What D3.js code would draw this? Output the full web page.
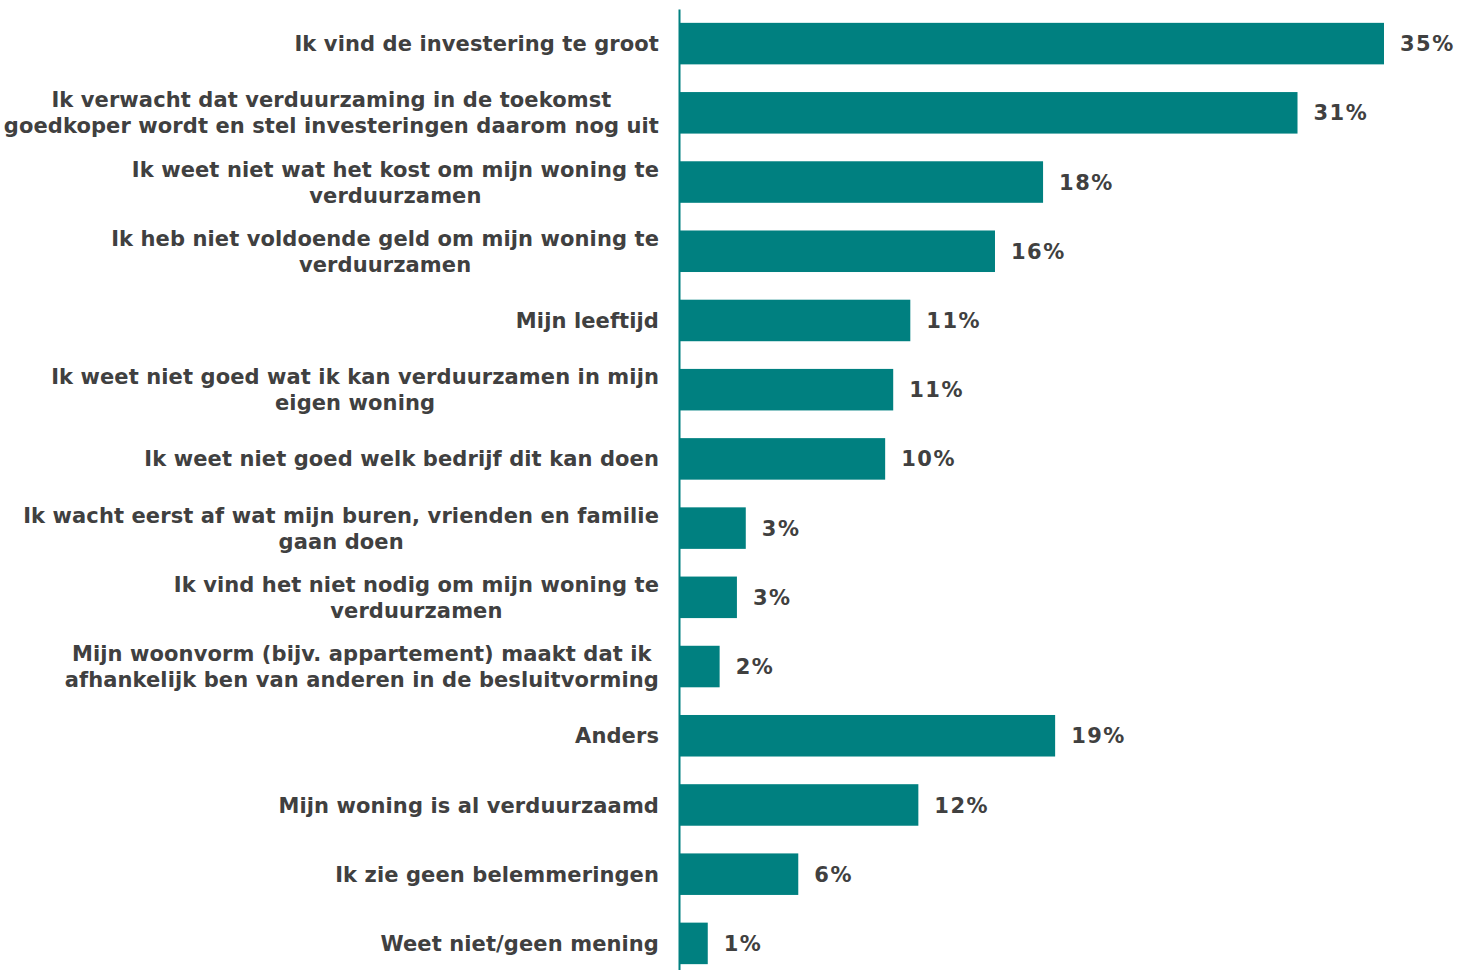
<!DOCTYPE html>
<html>
<head>
<meta charset="utf-8">
<script src="https://cdn.jsdelivr.net/npm/d3@7"></script>
<style>
  body { margin: 0; background: #fff; }
  text { font-family: "DejaVu Sans", sans-serif; font-weight: bold; fill: #404040; }
</style>
</head>
<body>
<div id="main"></div>
<script>
//data
const categories = [
  ['Ik vind de investering te groot'],
  ['Ik verwacht dat verduurzaming in de toekomst', 'goedkoper wordt en stel investeringen daarom nog uit'],
  ['Ik weet niet wat het kost om mijn woning te', 'verduurzamen'],
  ['Ik heb niet voldoende geld om mijn woning te', 'verduurzamen'],
  ['Mijn leeftijd'],
  ['Ik weet niet goed wat ik kan verduurzamen in mijn', 'eigen woning'],
  ['Ik weet niet goed welk bedrijf dit kan doen'],
  ['Ik wacht eerst af wat mijn buren, vrienden en familie', 'gaan doen'],
  ['Ik vind het niet nodig om mijn woning te', 'verduurzamen'],
  ['Mijn woonvorm (bijv. appartement) maakt dat ik', 'afhankelijk ben van anderen in de besluitvorming'],
  ['Anders'],
  ['Mijn woning is al verduurzaamd'],
  ['Ik zie geen belemmeringen'],
  ['Weet niet/geen mening']
];
const values = [0.350, 0.307, 0.1805, 0.1566, 0.1145, 0.106, 0.102, 0.0327, 0.0283, 0.0197, 0.1865, 0.1185, 0.0588, 0.0138];

const dataset = categories.map((c, i) => ({key: i, lines: c, value: values[i]}));

//constants
const W = 1460, H = 970;
const margin = {left: 680, top: 9};
const color = '#008080';

const x = d3.scaleLinear()
  .domain([0, d3.max(values)])
  .range([0, 704]);

const y = d3.scaleBand()
  .domain(dataset.map(d => d.key))
  .range([0, 969])
  .paddingInner(0.4)
  .paddingOuter(0.2);

const svg = d3.select('#main')
  .append('svg')
  .attr('width', W)
  .attr('height', H)
  .append('g')
  .attr('transform', `translate(${margin.left}, ${margin.top})`);

svg.selectAll('rect')
  .data(dataset)
  .enter()
  .append('rect')
  .attr('x', 0)
  .attr('y', d => y(d.key))
  .attr('width', d => x(d.value))
  .attr('height', y.bandwidth())
  .attr('fill', color);

//axis line only, labels drawn below
svg.append('g')
  .attr('transform', 'translate(-1, 0)')
  .call(d3.axisLeft(y).tickSize(0).tickSizeOuter(0).tickFormat(''))
  .call(g => g.select('.domain').attr('stroke', color).attr('stroke-width', 2));

//category labels, lines centred on each other, block right aligned
const fmt = d3.format('.0%');
const labelRight = -21;
const lineH = 26;

const labels = svg.selectAll('.cat')
  .data(dataset)
  .enter()
  .append('text')
  .attr('class', 'cat')
  .style('font-size', '21px')
  .style('letter-spacing', '0.1px')
  .attr('text-anchor', 'middle');

labels.each(function (d) {
  const t = d3.select(this);
  const cy = y(d.key) + y.bandwidth() / 2;
  const n = d.lines.length;
  d.lines.forEach((line, j) => {
    t.append('tspan')
      .attr('y', cy + (j - (n - 1) / 2) * lineH)
      .attr('dy', '0.36em')
      .text(line);
  });
  const maxW = d3.max(t.selectAll('tspan').nodes(), n => n.getComputedTextLength());
  t.selectAll('tspan').attr('x', labelRight - maxW / 2);
});

//value labels
svg.selectAll('.val')
  .data(dataset)
  .enter()
  .append('text')
  .attr('class', 'val')
  .style('font-size', '21px')
  .style('letter-spacing', '1.5px')
  .attr('x', d => x(d.value) + 16)
  .attr('y', d => y(d.key) + y.bandwidth() / 2)
  .attr('dy', '0.36em')
  .text(d => fmt(d.value));
</script>
</body>
</html>
